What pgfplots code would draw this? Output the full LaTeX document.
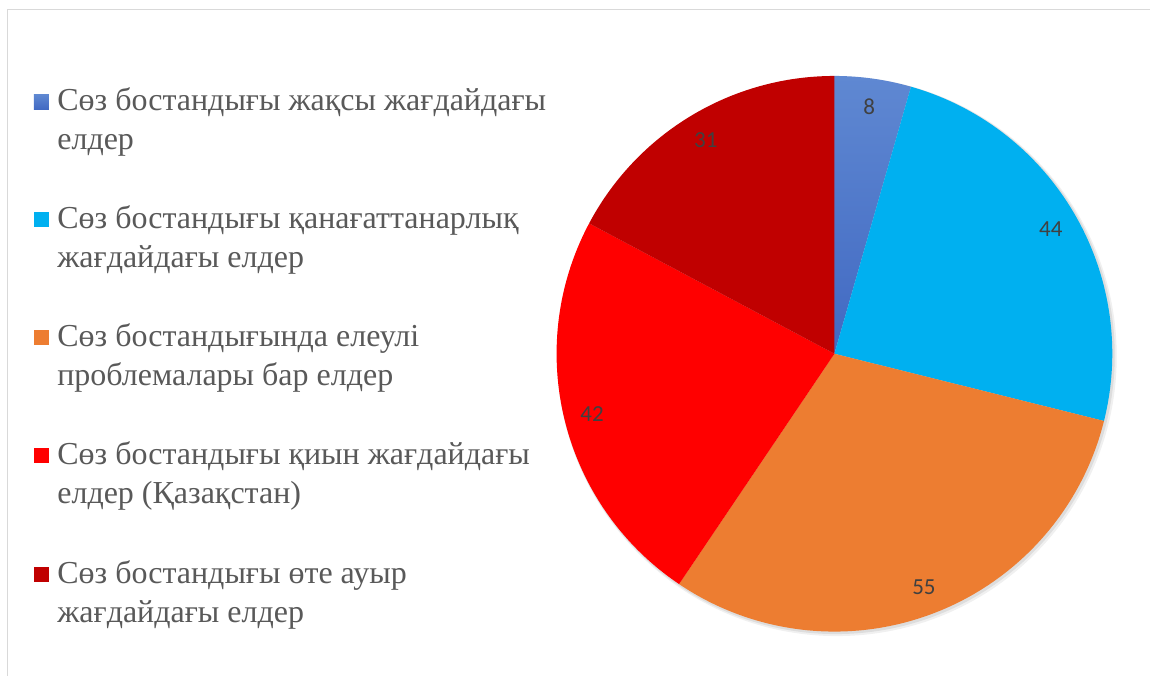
\documentclass[border=0pt]{standalone}
\usepackage{pgfplots}
\pgfplotsset{compat=1.18}
\usepackage{pgfplotstable}
\usepackage{fontspec}
\setmainfont{Liberation Serif}
\newfontfamily\carlito{Carlito}

\definecolor{frameline}{HTML}{D9D9D9}
\definecolor{legendtext}{HTML}{595959}
\definecolor{labeltext}{HTML}{404040}
\definecolor{blueTop}{HTML}{5F88D2}
\definecolor{blueBot}{HTML}{4169C2}
\definecolor{lightblue}{HTML}{00B0F0}
\definecolor{orange}{HTML}{ED7D31}
\definecolor{brightred}{HTML}{FF0000}
\definecolor{darkred}{HTML}{C00000}

\tikzset{
  sliceA/.style={top color=blueTop, bottom color=blueBot},
  sliceB/.style={fill=lightblue},
  sliceC/.style={fill=orange},
  sliceD/.style={fill=brightred},
  sliceE/.style={fill=darkred},
}

% values of the pie, clockwise from the top
\pgfplotstableread{
value style
8  sliceA
44 sliceB
55 sliceC
42 sliceD
31 sliceE
}\piedata
\pgfplotstablecreatecol[create col/expr accum={\pgfmathaccuma+\thisrow{value}}{0}]{cum}{\piedata}

\newcommand\slicefont{\carlito\fontsize{11.5}{13}\selectfont}
\newcommand\legfont{\fontsize{16}{18.5}\selectfont}

% colour style, baseline (px), first line, second line
\newcommand\legendentry[4]{%
  \path[#1] (axis cs:34,#2-16.5) rectangle (axis cs:49,#2-1.5);
  \node[anchor=base west, inner sep=0pt, font=\legfont, text=legendtext] at (axis cs:57,#2) {#3};
  \node[anchor=base west, inner sep=0pt, font=\legfont, text=legendtext] at (axis cs:57,#2+39) {#4};
}

\begin{document}
\begin{tikzpicture}
\pgfplotstablegetrowsof{\piedata}
\pgfmathtruncatemacro\lastrow{\pgfplotsretval-1}
\pgfplotstablegetelem{\lastrow}{cum}\of\piedata
\let\pietotal\pgfplotsretval
\begin{axis}[
  scale only axis,
  width=575.5pt, height=338pt,
  xmin=0, xmax=1151, ymin=0, ymax=676,
  y dir=reverse,
  hide axis,
  clip=false,
]
\path[fill=white] (axis cs:0,0) rectangle (axis cs:1151,676);
\draw[frameline, line width=0.8pt] (axis cs:7.5,676) -- (axis cs:7.5,9.5) -- (axis cs:1151,9.5);

% soft shadow
\fill[black, opacity=0.06] (axis cs:837.5,356.5) circle[radius=140pt];
\fill[black, opacity=0.08] (axis cs:836.5,355.5) circle[radius=139.5pt];

\pgfplotsinvokeforeach{0,...,\lastrow}{
  \pgfplotstablegetelem{#1}{value}\of\piedata \let\slv\pgfplotsretval
  \pgfplotstablegetelem{#1}{cum}\of\piedata \let\slc\pgfplotsretval
  \pgfplotstablegetelem{#1}{style}\of\piedata \let\sls\pgfplotsretval
  \pgfmathsetmacro\sla{90-(\slc-\slv)/\pietotal*360}
  \pgfmathsetmacro\slb{90-\slc/\pietotal*360}
  \pgfmathsetmacro\slm{(\sla+\slb)/2}
  \edef\temp{%
    \noexpand\path[\sls] (axis cs:835,354) -- ++(\sla:139pt)
      arc[start angle=\sla, end angle=\slb, radius=139pt] -- cycle;
    \noexpand\path (axis cs:835,354) ++(\slm:125pt)
      node[font=\noexpand\slicefont, text=labeltext] {\slv};
  }
  \temp
}

\legendentry{sliceA}{111}{Сөз бостандығы жақсы жағдайдағы}{елдер}
\legendentry{sliceB}{229}{Сөз бостандығы қанағаттанарлық}{жағдайдағы елдер}
\legendentry{sliceC}{347}{Сөз бостандығында елеулі}{проблемалары бар елдер}
\legendentry{sliceD}{465}{Сөз бостандығы қиын жағдайдағы}{елдер (Қазақстан)}
\legendentry{sliceE}{584}{Сөз бостандығы өте ауыр}{жағдайдағы елдер}
\end{axis}
\end{tikzpicture}
\end{document}
